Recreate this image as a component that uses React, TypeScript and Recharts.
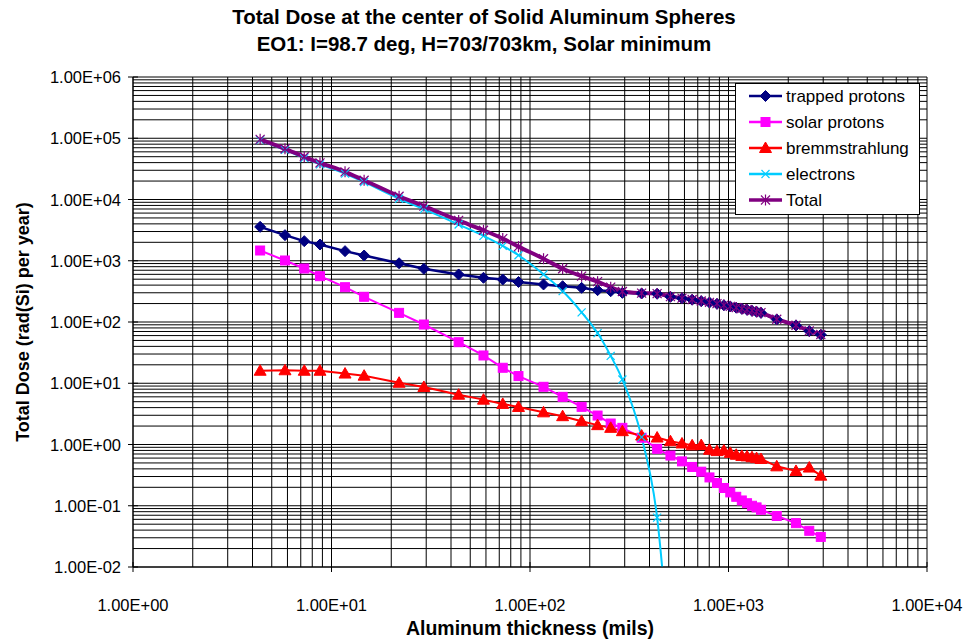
import React from 'react';
import { LineChart, Line, XAxis, YAxis, CartesianGrid, Legend } from 'recharts';

// Aluminum thickness (mils)
const thickness = [4.37, 5.83, 7.29, 8.75, 11.7, 14.6, 21.9, 29.2, 43.7, 58.3, 72.9, 87.5, 117, 146, 182, 219, 255, 292, 365, 437, 510, 583, 656, 729, 802, 875, 948, 1021, 1094, 1167, 1240, 1313, 1385, 1458, 1750, 2188, 2552, 2917];

// Dose, rad(Si) per year
const trappedProtons = [3580, 2620, 2090, 1840, 1435, 1218, 910, 738, 597, 527, 494, 450, 410, 384, 361, 331, 318, 299, 292, 289, 258, 244, 231, 219, 208, 198, 188, 179, 171, 164, 158, 152, 147, 141, 110, 88, 71, 62];
const solarProtons = [1470, 1010, 747, 560, 370, 258, 141, 91, 46.8, 28.4, 17.9, 13.1, 8.75, 6.0, 4.12, 2.97, 2.2, 1.87, 1.29, 0.85, 0.66, 0.53, 0.43, 0.36, 0.29, 0.235, 0.195, 0.165, 0.14, 0.122, 0.11, 0.1, 0.094, 0.086, 0.068, 0.052, 0.039, 0.031];
const bremsstrahlung = [16, 16.3, 16, 16, 14.4, 13.3, 10.2, 8.7, 6.5, 5.4, 4.6, 4.1, 3.35, 2.9, 2.4, 2.07, 1.87, 1.65, 1.4, 1.3, 1.13, 1.04, 0.97, 0.98, 0.82, 0.78, 0.8, 0.73, 0.68, 0.65, 0.64, 0.62, 0.6, 0.58, 0.44, 0.37, 0.42, 0.31];
const electrons = [93000, 64500, 47500, 37500, 26500, 19200, 10300, 6950, 3900, 2550, 1750, 1230, 600, 320, 144, 66, 28, 11.5, 1.32, 0.064, 0.00025, null, null, null, null, null, null, null, null, null, null, null, null, null, null, null, null, null];
const totalDose = [96000, 67300, 49800, 39700, 28300, 20600, 11300, 7800, 4550, 3150, 2300, 1700, 1080, 740, 560, 455, 370, 315, 296, 291, 260, 246, 233, 220, 209, 199, 189, 180, 172, 165, 159, 153, 148, 142, 111, 88.5, 71.5, 62.5];

// Axis ticks
const xMajor = [1, 10, 100, 1000, 10000];
const xTickLabels = ['1.00E+00', '1.00E+01', '1.00E+02', '1.00E+03', '1.00E+04'];
const yMajor = [0.01, 0.1, 1, 10, 100, 1000, 10000, 100000, 1000000];
const yTickLabels = ['1.00E-02', '1.00E-01', '1.00E+00', '1.00E+01', '1.00E+02', '1.00E+03', '1.00E+04', '1.00E+05', '1.00E+06'];
const minorMultipliers = [1, 2, 3, 4, 5, 6, 7, 8, 9];

const withMinors = (majors: number[]) => {
  const out: number[] = [];
  majors.forEach((m, i) => {
    if (i === majors.length - 1) out.push(m);
    else minorMultipliers.forEach((k) => out.push(k * m));
  });
  return out;
};
const xTicks = withMinors(xMajor);
const yTicks = withMinors(yMajor);

const data = thickness.map((t, i) => ({
  x: t,
  trapped: trappedProtons[i],
  solar: solarProtons[i],
  brem: bremsstrahlung[i],
  electrons: electrons[i],
  total: totalDose[i],
}));

const FONT = '"Liberation Sans", Arial, sans-serif';

type Shape = 'diamond' | 'square' | 'triangle' | 'x' | 'star';

const Marker = ({ cx, cy, shape, color }: { cx: number; cy: number; shape: Shape; color: string }) => {
  switch (shape) {
    case 'diamond':
      return <polygon points={`${cx},${cy - 5.5} ${cx + 5.5},${cy} ${cx},${cy + 5.5} ${cx - 5.5},${cy}`} fill={color} stroke={color} strokeWidth={1} />;
    case 'square':
      return <rect x={cx - 4.5} y={cy - 4.5} width={9} height={9} fill={color} stroke={color} strokeWidth={1} />;
    case 'triangle':
      return <polygon points={`${cx},${cy - 6} ${cx + 6},${cy + 4.5} ${cx - 6},${cy + 4.5}`} fill={color} stroke={color} strokeWidth={1} />;
    case 'x':
      return (
        <g stroke={color} strokeWidth={1.2}>
          <line x1={cx - 4} y1={cy - 4} x2={cx + 4} y2={cy + 4} />
          <line x1={cx - 4} y1={cy + 4} x2={cx + 4} y2={cy - 4} />
        </g>
      );
    case 'star':
    default:
      return (
        <g stroke={color} strokeWidth={1.2}>
          <line x1={cx - 4.5} y1={cy - 4.5} x2={cx + 4.5} y2={cy + 4.5} />
          <line x1={cx - 4.5} y1={cy + 4.5} x2={cx + 4.5} y2={cy - 4.5} />
          <line x1={cx} y1={cy - 5.5} x2={cx} y2={cy + 5.5} />
        </g>
      );
  }
};

const series: { key: string; name: string; color: string; shape: Shape; width: number; curve: 'linear' | 'monotone' }[] = [
  { key: 'trapped', name: 'trapped protons', color: '#000080', shape: 'diamond', width: 2.5, curve: 'linear' },
  { key: 'solar', name: 'solar protons', color: '#FF00FF', shape: 'square', width: 2, curve: 'linear' },
  { key: 'brem', name: 'bremmstrahlung', color: '#FF0000', shape: 'triangle', width: 2, curve: 'linear' },
  { key: 'electrons', name: 'electrons', color: '#00CCFF', shape: 'x', width: 2, curve: 'monotone' },
  { key: 'total', name: 'Total', color: '#800080', shape: 'star', width: 4, curve: 'monotone' },
];

const makeDot = (shape: Shape, color: string) => (props: any) => {
  const { cx, cy, key, value } = props;
  if (typeof cx !== 'number' || typeof cy !== 'number' || value == null || isNaN(cy)) return <g key={key} />;
  return (
    <g key={key}>
      <Marker cx={cx} cy={cy} shape={shape} color={color} />
    </g>
  );
};

const XTick = (props: any) => {
  const { x, y, payload } = props;
  const idx = xMajor.indexOf(payload.value);
  if (idx < 0) return <g />;
  return (
    <g>
      <line x1={x} x2={x} y1={y - 5} y2={y + 5} stroke="#000" />
      <text x={x} y={y + 44} textAnchor="middle" fontFamily={FONT} fontSize={16.5} fill="#000">
        {xTickLabels[idx]}
      </text>
    </g>
  );
};

const YTick = (props: any) => {
  const { x, y, payload } = props;
  const idx = yMajor.indexOf(payload.value);
  if (idx < 0) return <g />;
  return (
    <g>
      <line x1={x - 5} x2={x + 5} y1={y} y2={y} stroke="#000" />
      <text x={x - 12} y={y + 6} textAnchor="end" fontFamily={FONT} fontSize={16.5} fill="#000">
        {yTickLabels[idx]}
      </text>
    </g>
  );
};

const LegendBox = () => (
  <svg width={186} height={133} style={{ display: 'block' }}>
    <rect x={0.5} y={0.5} width={184} height={131} fill="#fff" stroke="#000" strokeWidth={1} />
    {series.map((s, i) => {
      const cy = 13 + i * 26;
      return (
        <g key={s.key}>
          <line x1={14} x2={47} y1={cy} y2={cy} stroke={s.color} strokeWidth={s.width > 3 ? 3.5 : 2.5} />
          <Marker cx={30.5} cy={cy} shape={s.shape} color={s.color} />
          <text x={51} y={cy + 6} fontFamily={FONT} fontSize={17} fill="#000">
            {s.name}
          </text>
        </g>
      );
    })}
  </svg>
);

export default function App() {
  return (
    <div style={{ position: 'absolute', left: 0, top: 0, width: 968, height: 639, background: '#fff' }}>
      <LineChart width={968} height={639} data={data} margin={{ top: 77, right: 41, bottom: 12, left: 73 }}>
        <CartesianGrid stroke="#000" strokeWidth={1} fill="none" />
        <XAxis
          dataKey="x"
          type="number"
          scale="log"
          domain={[1, 10000]}
          allowDataOverflow
          ticks={xTicks}
          interval={0}
          tick={<XTick />}
          tickLine={false}
          tickSize={0}
          tickMargin={0}
          height={60}
          axisLine={{ stroke: '#000' }}
        />
        <YAxis
          type="number"
          scale="log"
          domain={[0.01, 1000000]}
          allowDataOverflow
          ticks={yTicks}
          interval={0}
          tick={<YTick />}
          tickLine={false}
          tickSize={0}
          tickMargin={0}
          width={60}
          axisLine={{ stroke: '#000' }}
        />
        <Legend
          layout="vertical"
          align="center"
          verticalAlign="middle"
          wrapperStyle={{ position: 'absolute', left: 735, top: 83, width: 186, height: 133 }}
          content={<LegendBox />}
        />
        {series.map((s) => (
          <Line
            key={s.key}
            dataKey={s.key}
            name={s.name}
            type={s.curve}
            stroke={s.color}
            strokeWidth={s.width}
            dot={makeDot(s.shape, s.color)}
            activeDot={false}
            isAnimationActive={false}
            connectNulls={false}
          />
        ))}
      </LineChart>
      <svg width={968} height={639} style={{ position: 'absolute', left: 0, top: 0, pointerEvents: 'none' }}>
        <text x={484} y={24} textAnchor="middle" fontFamily={FONT} fontWeight="bold" fontSize={20.5} fill="#000">
          Total Dose at the center of Solid Aluminum Spheres
        </text>
        <text x={484} y={51} textAnchor="middle" fontFamily={FONT} fontWeight="bold" fontSize={20.5} fill="#000">
          EO1: I=98.7 deg, H=703/703km, Solar minimum
        </text>
        <text x={530} y={635} textAnchor="middle" fontFamily={FONT} fontWeight="bold" fontSize={19.5} fill="#000">
          Aluminum thickness (mils)
        </text>
        <text
          x={0}
          y={0}
          transform="translate(29,322) rotate(-90)"
          textAnchor="middle"
          fontFamily={FONT}
          fontWeight="bold"
          fontSize={18}
          fill="#000"
        >
          Total Dose (rad(Si) per year)
        </text>
      </svg>
    </div>
  );
}
